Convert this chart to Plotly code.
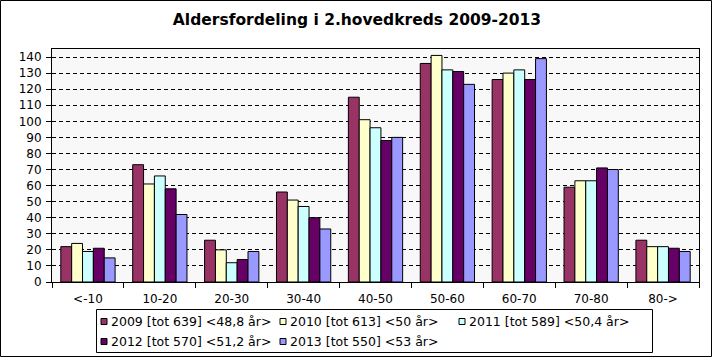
import plotly.graph_objects as go

categories = ["<-10", "10-20", "20-30", "30-40", "40-50", "50-60", "60-70", "70-80", "80->"]
series_names = [
    "2009 [tot 639] <48,8 år>",
    "2010 [tot 613] <50 år>",
    "2011 [tot 589] <50,4 år>",
    "2012 [tot 570] <51,2 år>",
    "2013 [tot 550] <53 år>",
]
v2009 = [22, 73, 26, 56, 115, 136, 126, 59, 26]
v2010 = [24, 61, 20, 51, 101, 141, 130, 63, 22]
v2011 = [19, 66, 12, 47, 96, 132, 132, 63, 22]
v2012 = [21, 58, 14, 40, 88, 131, 126, 71, 21]
v2013 = [15, 42, 19, 33, 90, 123, 139, 70, 19]
series_values = [v2009, v2010, v2011, v2012, v2013]
colors = ["#993366", "#FFFFCC", "#CCFFFF", "#660066", "#9999FF"]
y_ticks = list(range(0, 141, 10))
title_text = "Aldersfordeling i 2.hovedkreds 2009-2013"

W, H = 714, 358
L, R, T, B = 52, 15, 49, 76
PW = W - L - R
PH = H - T - B
FONT = "Verdana, DejaVu Sans, sans-serif"


def px(x):
    return (x - L) / PW


def py(y):
    return (H - B - y) / PH


fig = go.Figure()
for name, vals, col in zip(series_names, series_values, colors):
    fig.add_trace(go.Bar(
        x=categories, y=vals, name=name, showlegend=False,
        marker=dict(color=col, line=dict(color="black", width=1)),
    ))

shapes = []
annotations = []
# outer chart frame
shapes.append(dict(type="rect", xref="paper", yref="paper",
                   x0=px(0.5), x1=px(711.5), y0=py(0.5), y1=py(356.5),
                   line=dict(color="black", width=1), fillcolor="rgba(0,0,0,0)", layer="above"))
# legend box
shapes.append(dict(type="rect", xref="paper", yref="paper",
                   x0=px(96.5), x1=px(652.5), y0=py(309.5), y1=py(352.5),
                   line=dict(color="black", width=1), fillcolor="white", layer="above"))
col_x = [101, 280, 459]
row_y = [321.5, 341.5]
for i, (name, col) in enumerate(zip(series_names, colors)):
    r, c = divmod(i, 3)
    sx = col_x[c]
    sy = row_y[r]
    shapes.append(dict(type="rect", xref="paper", yref="paper",
                       x0=px(sx), x1=px(sx + 6), y0=py(sy - 3), y1=py(sy + 3),
                       line=dict(color="black", width=1), fillcolor=col, layer="above"))
    annotations.append(dict(xref="paper", yref="paper", x=px(sx + 8), y=py(sy),
                            xanchor="left", yanchor="middle", showarrow=False,
                            text=name, font=dict(family=FONT, size=12.5, color="black")))

fig.update_layout(
    width=W, height=H, autosize=False,
    margin=dict(l=L, r=R, t=T, b=B),
    paper_bgcolor="white",
    plot_bgcolor="#F8F8F8",
    barmode="group", bargap=0.245, bargroupgap=0,
    title=dict(text="<b>" + title_text + "</b>", x=0.5, xref="container", xanchor="center",
               y=1 - 20 / H, yref="container", yanchor="middle",
               font=dict(family=FONT, size=15.5, color="black")),
    font=dict(family=FONT, size=12, color="black"),
    shapes=shapes,
    annotations=annotations,
    showlegend=False,
)
fig.update_xaxes(
    type="category", categoryorder="array", categoryarray=categories,
    showline=True, linecolor="black", linewidth=1, mirror=True,
    ticks="outside", tickson="boundaries", ticklen=5, tickcolor="black",
    ticklabelstandoff=6,
    showgrid=False, tickfont=dict(family=FONT, size=12, color="black"),
)
fig.update_yaxes(
    range=[0, 145], tickvals=y_ticks, ticktext=[str(v) for v in y_ticks],
    showline=True, linecolor="black", linewidth=1, mirror=True,
    ticks="outside", ticklen=5, tickcolor="black",
    ticklabelstandoff=2,
    showgrid=True, gridcolor="black", gridwidth=1, griddash="4px,3px",
    zeroline=False, tickfont=dict(family=FONT, size=12, color="black"),
)

fig.write_html("out.html", config={"displayModeBar": False},
               post_script="document.body.style.margin='0';document.body.style.overflow='hidden';")
